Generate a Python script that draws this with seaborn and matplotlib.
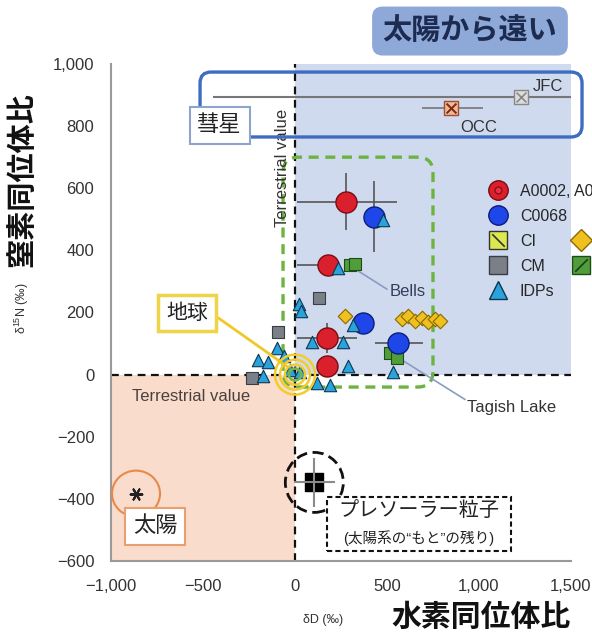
"""
Nitrogen vs hydrogen isotope ratios (dD vs d15N) of solar system materials.
"""

import matplotlib

matplotlib.use("Agg")
import matplotlib.pyplot as plt
import numpy as np
import pandas as pd
import seaborn as sns
from matplotlib.lines import Line2D
from matplotlib.patches import Ellipse, FancyBboxPatch, Rectangle
from matplotlib.path import Path
from matplotlib.ticker import FixedLocator, FuncFormatter

# =============================================================================
# DATA
# =============================================================================
x_ticks = [-1000, -500, 0, 500, 1000, 1500]
y_ticks = [-600, -400, -200, 0, 200, 400, 600, 800, 1000]

# Ryugu grains A0002 / A0037 (red) and C0068 (blue)
red_D = [277, 181, 172, 172]
red_N = [557, 354, 119, 29]
red_xerr_lo = [268, 170, 163, 0]
red_xerr_hi = [276, 40, 163, 0]
red_yerr = [92, 0, 48, 0]

blue_D = [431, 370, 560]
blue_N = [509, 167, 103]
blue_xerr_lo = [0, 0, 125]
blue_xerr_hi = [0, 0, 136]
blue_yerr = [113, 0, 0]

idp_D = [478, 234, 20, 30, 316, 92, 261, 290, 190, 120, 533, -98, -201, -147, -174, -27, 27, -60]
idp_N = [498, 343, 228, 205, 161, 106, 106, 29, -32, -26, 10, 87, 48, 42, -6, 16, 10, 60]

cm_D = [132, -92, -234]
cm_N = [248, 138, -10]

cr_D = [272, 580, 615, 650, 690, 725, 760, 790]
cr_N = [189, 180, 188, 172, 182, 170, 178, 172]

tl_D = [300, 325, 516, 554]
tl_N = [352, 356, 71, 55]

# comets
jfc = (1230, 894)
jfc_xerr = (1675, 500)
occ = (850, 858)
occ_xerr = (160, 170)

# sun and presolar grains
sun = (-864, -383)
presolar = (105, -347)
presolar_err = (110, 80)

legend_labels = ["A0002, A0037", "C0068", "CI", "CM", "IDPs"]

# =============================================================================
# STYLE
# =============================================================================
sns.set_style("white")
plt.rcParams["font.family"] = ["Liberation Sans", "Noto Sans CJK JP"]
plt.rcParams["mathtext.default"] = "regular"

fig = plt.figure(figsize=(5.92, 6.36), dpi=100)
ax = fig.add_axes([0.1875, 0.1179, 0.777, 0.7815])
ax.set_xlim(-1000, 1500)
ax.set_ylim(-600, 1000)

# px -> data conversion (for round boxes / circles)
px_x = 2500 / 460.0
px_y = 1600 / 497.0
aspect = px_y / px_x

# shaded zones
ax.add_patch(Rectangle((0, 0), 1500, 1000, fc="#cfdaee", ec="none", zorder=0))
ax.add_patch(Rectangle((-1000, -600), 1000, 600, fc="#f9dccb", ec="none", zorder=0))

# terrestrial value lines
ax.axvline(0, color="#111111", ls=(0, (3.5, 2.5)), lw=1.6, zorder=1)
ax.axhline(0, color="#111111", ls=(0, (3.5, 2.5)), lw=1.6, zorder=1)
ax.text(-70, 665, "Terrestrial value", rotation=90, ha="center", va="center",
        fontsize=12, color="#333333")
ax.text(-565, -71, "Terrestrial value", ha="center", va="center",
        fontsize=12, color="#4a4040")

# green dashed box around the meteorite data
ax.add_patch(FancyBboxPatch((-65, -40), 815, 740,
                            boxstyle="round,pad=0,rounding_size=85",
                            mutation_aspect=aspect, fc="none", ec="#6cb33f",
                            lw=2.4, ls=(0, (3, 2)), zorder=2))

# comet box
ax.add_patch(FancyBboxPatch((-516, 765), 2076, 209,
                            boxstyle="round,pad=0,rounding_size=60",
                            mutation_aspect=aspect, fc="none", ec="#3d6cc0",
                            lw=2.4, zorder=3, clip_on=False))

# error bars
ax.errorbar(red_D, red_N, xerr=[red_xerr_lo, red_xerr_hi], yerr=red_yerr,
            fmt="none", ecolor="#555555", elinewidth=1.2, zorder=3)
ax.errorbar(blue_D, blue_N, xerr=[blue_xerr_lo, blue_xerr_hi], yerr=blue_yerr,
            fmt="none", ecolor="#555555", elinewidth=1.2, zorder=3)
ax.errorbar([jfc[0]], [jfc[1]], xerr=[[jfc_xerr[0]], [jfc_xerr[1]]],
            fmt="none", ecolor="#777777", elinewidth=1.5, zorder=3)
ax.errorbar([occ[0]], [occ[1]], xerr=[[occ_xerr[0]], [occ_xerr[1]]],
            fmt="none", ecolor="#777777", elinewidth=1.2, zorder=3)

# earth rings
for r, c in [(20, "#f2cc2c"), (15, "#f2cc2c"), (10, "#f2cc2c"), (6, "#79b545")]:
    ax.add_patch(Ellipse((0, 0), 2 * r * px_x, 2 * r * px_y, fill=False,
                         ec=c, lw=1.8, zorder=6))

# data markers
sns.scatterplot(x=cm_D, y=cm_N, ax=ax, marker="s", s=70, color="#7b7f87",
                edgecolor="#3a3d44", linewidth=0.8, zorder=4, legend=False)
sns.scatterplot(x=cr_D, y=cr_N, ax=ax, marker="D", s=55, color="#f0c020",
                edgecolor="#8a6a00", linewidth=0.8, zorder=4, legend=False)
sns.scatterplot(x=tl_D, y=tl_N, ax=ax, marker="s", s=70, color="#4f9e3a",
                edgecolor="#1f4a1a", linewidth=0.8, zorder=4, legend=False)
sns.scatterplot(x=red_D, y=red_N, ax=ax, marker="o", s=230, color="#d9202c",
                edgecolor="#7a0d14", linewidth=1.0, zorder=5, legend=False)
sns.scatterplot(x=blue_D, y=blue_N, ax=ax, marker="o", s=230, color="#1f46e8",
                edgecolor="#0b1f7a", linewidth=1.0, zorder=5, legend=False)
sns.scatterplot(x=idp_D, y=idp_N, ax=ax, marker="^", s=80, color="#29a3dc",
                edgecolor="#0e3550", linewidth=0.8, zorder=5, legend=False)

# comets
ax.scatter([jfc[0]], [jfc[1]], marker="s", s=90, c="#dcdcdc", edgecolors="#888888", zorder=6)
ax.scatter([jfc[0]], [jfc[1]], marker="x", s=50, c="#888888", linewidths=1.2, zorder=7)
ax.scatter([occ[0]], [occ[1]], marker="s", s=90, c="#f0b898", edgecolors="#a05030", zorder=6)
ax.scatter([occ[0]], [occ[1]], marker="x", s=50, c="#7a2a10", linewidths=1.4, zorder=7)
ax.text(1290, 926, "JFC", fontsize=12, color="#333333", va="center")
ax.text(897, 797, "OCC", fontsize=12, color="#333333", va="center")

# sun
ax.scatter([sun[0]], [sun[1]], marker=(6, 2, 90), s=70, c="#222222", linewidths=1.5, zorder=6)
ax.add_patch(Ellipse(sun, 2 * 24 * px_x, 2 * 23 * px_y, fill=False,
                     ec="#e8894a", lw=1.5, zorder=6))

# presolar grains
ax.scatter([presolar[0]], [presolar[1]], marker="s", s=170, c="#000000", zorder=6)
ax.errorbar([presolar[0]], [presolar[1]], xerr=presolar_err[0], yerr=presolar_err[1],
            fmt="none", ecolor="#8a8a8a", elinewidth=1.5, zorder=7)
ax.add_patch(Ellipse(presolar, 2 * 29 * px_x, 2 * 30 * px_y, fill=False,
                     ec="#111111", lw=2.0, ls=(0, (4, 2)), zorder=6))

# leader lines
ax.plot([316, 500], [344, 275], color="#8b9bc0", lw=1.2, zorder=3)
ax.text(614, 267, "Bells", fontsize=12, color="#333f5a", ha="center", va="center")
ax.plot([560, 924], [55, -80], color="#8b9bc0", lw=1.2, zorder=3, clip_on=False)
ax.text(935, -106, "Tagish Lake", fontsize=12, color="#333333", ha="left", va="center")
ax.plot([-418, -40], [183, 25], color="#f0c828", lw=2, zorder=6)

# japanese labels
ax.text(951, 1106, "太陽から遠い", fontsize=21, fontweight="bold", color="#1c2b4f",
        ha="center", va="center", clip_on=False,
        bbox=dict(boxstyle="round,pad=0.36", fc="#8ea8d8", ec="none"))
ax.text(-410, 802, "彗星", fontsize=16, color="#222222", ha="center", va="center", zorder=8,
        bbox=dict(boxstyle="square,pad=0.35", fc="white", ec="#8ea4cc", lw=1.5))
ax.text(-587, 199, "地球", fontsize=15, color="#222222", ha="center", va="center", zorder=8,
        bbox=dict(boxstyle="square,pad=0.4", fc="white", ec="#f0d447", lw=2.5))
ax.text(-761, -489, "太陽", fontsize=16, color="#222222", ha="center", va="center", zorder=8,
        bbox=dict(boxstyle="square,pad=0.35", fc="white", ec="#e8a070", lw=1.5))

ax.add_patch(Rectangle((174, -569), 1000, 174, fc="white", ec="#111111",
                       lw=1.5, ls=(0, (2.5, 1.5)), zorder=8, clip_on=False))
ax.text(674, -438, "プレソーラー粒子", fontsize=14.5, color="#222222",
        ha="center", va="center", zorder=9)
ax.text(674, -525, "(太陽系の“もと”の残り)", fontsize=10.5, color="#222222",
        ha="center", va="center", zorder=9)

# axes styling
for side in ["top", "right"]:
    ax.spines[side].set_visible(False)
for side in ["left", "bottom"]:
    ax.spines[side].set_color("#9a9a9a")
    ax.spines[side].set_linewidth(1.5)
ax.xaxis.set_major_locator(FixedLocator(x_ticks))
ax.yaxis.set_major_locator(FixedLocator(y_ticks))
fmt = FuncFormatter(lambda v, _: f"{int(v):,}".replace("-", "\u2212"))
ax.xaxis.set_major_formatter(fmt)
ax.yaxis.set_major_formatter(fmt)
ax.tick_params(direction="inout", length=8, width=1.2, color="#9a9a9a",
               labelsize=12, labelcolor="#333333")
ax.tick_params(axis="x", pad=9)
ax.tick_params(axis="y", pad=8)
ax.set_xlabel("")
ax.set_ylabel("")

fig.text(0.037, 0.717, "窒素同位体比", rotation=90, fontsize=21, fontweight="bold",
         ha="center", va="center", color="#111111")
fig.text(0.037, 0.516, "δ$^{15}$N (‰)", rotation=90, fontsize=9,
         ha="center", va="center", color="#333333")
fig.text(0.546, 0.025, "δD (‰)", fontsize=9, ha="center", va="center", color="#333333")
fig.text(0.8125, 0.028, "水素同位体比", fontsize=21.5, fontweight="bold",
         ha="center", va="center", color="#111111")

# legend
backslash = Path([(-1, 1), (1, -1)], [Path.MOVETO, Path.LINETO])
slash = Path([(-1, -1), (1, 1)], [Path.MOVETO, Path.LINETO])
h_red = (Line2D([], [], ls="none", marker="o", ms=14, mfc="#d9202c", mec="#7a0d14"),
         Line2D([], [], ls="none", marker="o", ms=5, mfc="#e83040", mec="#8a1018"))
h_blue = Line2D([], [], ls="none", marker="o", ms=14, mfc="#1f46e8", mec="#0b1f7a")
h_ci = (Line2D([], [], ls="none", marker="s", ms=13, mfc="#dbe84e", mec="#333333"),
        Line2D([], [], ls="none", marker=backslash, ms=9, mec="#333333", mew=1.2))
h_cm = Line2D([], [], ls="none", marker="s", ms=13, mfc="#7b7f87", mec="#3a3d44")
h_idp = Line2D([], [], ls="none", marker="^", ms=13, mfc="#29a3dc", mec="#0e3550")
leg = ax.legend([h_red, h_blue, h_ci, h_cm, h_idp], legend_labels,
                loc="upper left", bbox_to_anchor=(488 / 592, 1 - 184 / 636),
                bbox_transform=fig.transFigure, frameon=False, fontsize=11.5,
                handlelength=1.3, handletextpad=0.7, labelspacing=0.62,
                borderpad=0, borderaxespad=0)
ax.add_artist(leg)

h_cr = Line2D([], [], ls="none", marker="D", ms=11, mfc="#f0c020", mec="#8a6a00")
h_tl = (Line2D([], [], ls="none", marker="s", ms=13, mfc="#4f9e3a", mec="#1f4a1a"),
        Line2D([], [], ls="none", marker=slash, ms=9, mec="#1f3a1a", mew=1.2))
ax.legend([h_cr, h_tl], ["", ""],
          loc="upper left", bbox_to_anchor=(571 / 592, 1 - 234 / 636),
          bbox_transform=fig.transFigure, frameon=False, fontsize=11.5,
          handlelength=1.3, handletextpad=0.5, labelspacing=0.62,
          borderpad=0, borderaxespad=0)

fig.savefig("out.png", dpi=100)
